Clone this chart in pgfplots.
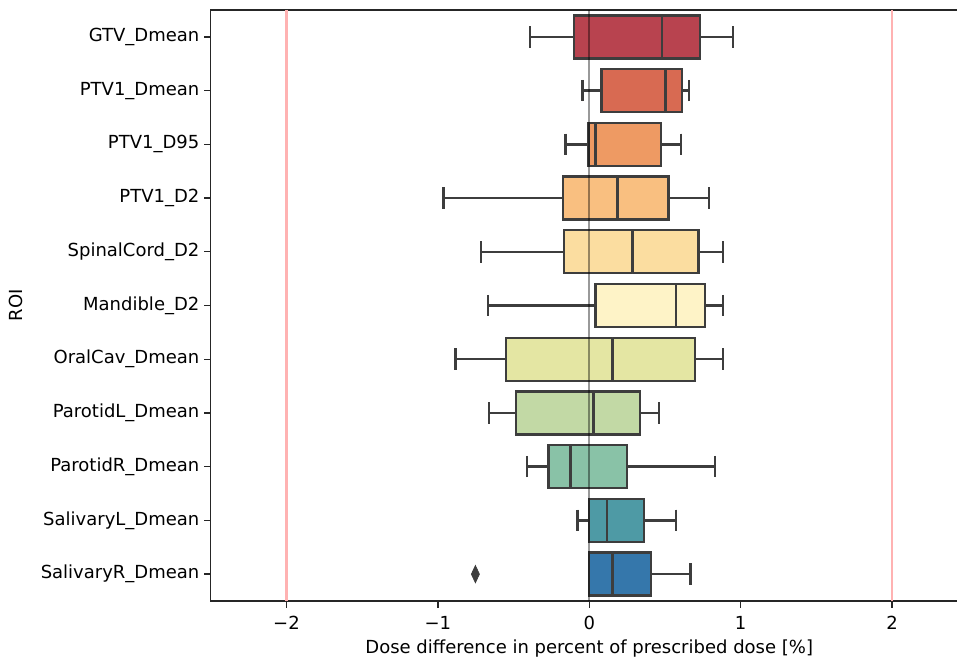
\documentclass[border=0pt]{standalone}
\usepackage{pgfplots}
\pgfplotsset{compat=1.18}
\usepgfplotslibrary{statistics}
\usepackage{fontspec}
\setmainfont{DejaVu Sans}
\definecolor{edgec}{HTML}{3D3D3D}
\definecolor{c0}{HTML}{B8434F}
\definecolor{c1}{HTML}{D86A52}
\definecolor{c2}{HTML}{EE9A63}
\definecolor{c3}{HTML}{F9BF80}
\definecolor{c4}{HTML}{FBDDA0}
\definecolor{c5}{HTML}{FEF3C7}
\definecolor{c6}{HTML}{E4E6A3}
\definecolor{c7}{HTML}{C2D9A5}
\definecolor{c8}{HTML}{89C2A7}
\definecolor{c9}{HTML}{4E9AA5}
\definecolor{c10}{HTML}{3577AB}
\pgfplotsset{
  bx/.style={boxplot/draw direction=x, fill=#1, draw=edgec, line width=1.8pt},
}
\begin{document}
\begin{tikzpicture}
\begin{axis}[
  name=ax,
  scale only axis, width=567.75pt, height=443.25pt,
  xmin=-2.5, xmax=2.5, ymin=-0.5, ymax=10.5, y dir=reverse,
  xtick={-2,-1,0,1,2}, xticklabels={−2,−1,0,1,2},
  ytick={0,1,2,3,4,5,6,7,8,9,10},
  yticklabels={GTV\_Dmean,PTV1\_Dmean,PTV1\_D95,PTV1\_D2,SpinalCord\_D2,Mandible\_D2,OralCav\_Dmean,ParotidL\_Dmean,ParotidR\_Dmean,SalivaryL\_Dmean,SalivaryR\_Dmean},
  xtick pos=bottom, ytick pos=left,
  tick align=outside, major tick length=5pt,
  axis line style={draw=black!85, line width=1pt},
  tick style={draw=black!85, line width=1pt},
  ticklabel style={font=\fontsize{13.5}{16}\selectfont},
  xticklabel style={yshift=-3pt},
  label style={font=\fontsize{13.5}{16}\selectfont},
  xlabel style={yshift=-0.5pt},
  ylabel style={yshift=7pt},
  xlabel={Dose difference in percent of prescribed dose [\%]},
  ylabel={ROI},
  boxplot/box extend=0.8,
  boxplot/whisker extend=0.4,
]
\addplot[red!30, line width=1.6pt] coordinates {(-2,-0.5) (-2,10.5)};
\addplot[red!30, line width=1.6pt] coordinates {(2,-0.5) (2,10.5)};
\addplot[draw=none, mark=diamond*, mark size=6.5pt, fill=edgec, mark options={draw=edgec, fill=edgec, line width=0.5pt, xscale=0.62}] coordinates {(-0.752,10)};

\addplot[bx=c0, boxplot prepared={draw position=0, lower whisker=-0.39, lower quartile=-0.10, median=0.48, upper quartile=0.733, upper whisker=0.95}] coordinates {};
\addplot[bx=c1, boxplot prepared={draw position=1, lower whisker=-0.044, lower quartile=0.081, median=0.504, upper quartile=0.612, upper whisker=0.658}] coordinates {};
\addplot[bx=c2, boxplot prepared={draw position=2, lower whisker=-0.158, lower quartile=-0.005, median=0.04, upper quartile=0.473, upper whisker=0.607}] coordinates {};
\addplot[bx=c3, boxplot prepared={draw position=3, lower whisker=-0.962, lower quartile=-0.174, median=0.187, upper quartile=0.523, upper whisker=0.790}] coordinates {};
\addplot[bx=c4, boxplot prepared={draw position=4, lower whisker=-0.714, lower quartile=-0.165, median=0.285, upper quartile=0.722, upper whisker=0.885}] coordinates {};
\addplot[bx=c5, boxplot prepared={draw position=5, lower whisker=-0.67, lower quartile=0.042, median=0.574, upper quartile=0.763, upper whisker=0.885}] coordinates {};
\addplot[bx=c6, boxplot prepared={draw position=6, lower whisker=-0.884, lower quartile=-0.551, median=0.153, upper quartile=0.698, upper whisker=0.885}] coordinates {};
\addplot[bx=c7, boxplot prepared={draw position=7, lower whisker=-0.663, lower quartile=-0.483, median=0.027, upper quartile=0.336, upper whisker=0.462}] coordinates {};
\addplot[bx=c8, boxplot prepared={draw position=8, lower whisker=-0.413, lower quartile=-0.269, median=-0.123, upper quartile=0.251, upper whisker=0.831}] coordinates {};
\addplot[bx=c9, boxplot prepared={draw position=9, lower whisker=-0.077, lower quartile=0.0, median=0.119, upper quartile=0.36, upper whisker=0.574}] coordinates {};
\addplot[bx=c10, boxplot prepared={draw position=10, lower whisker=0.0, lower quartile=0.0, median=0.153, upper quartile=0.406, upper whisker=0.669}] coordinates {};

\addplot[black, opacity=0.4, line width=1.8pt] coordinates {(0,-0.5) (0,10.5)};
\end{axis}
\pgfresetboundingbox
\path[use as bounding box] ([xshift=-158.06pt,yshift=-43.5pt]ax.south west) rectangle ([xshift=-8.06pt,yshift=7.5pt]ax.north east);
\end{tikzpicture}
\end{document}
